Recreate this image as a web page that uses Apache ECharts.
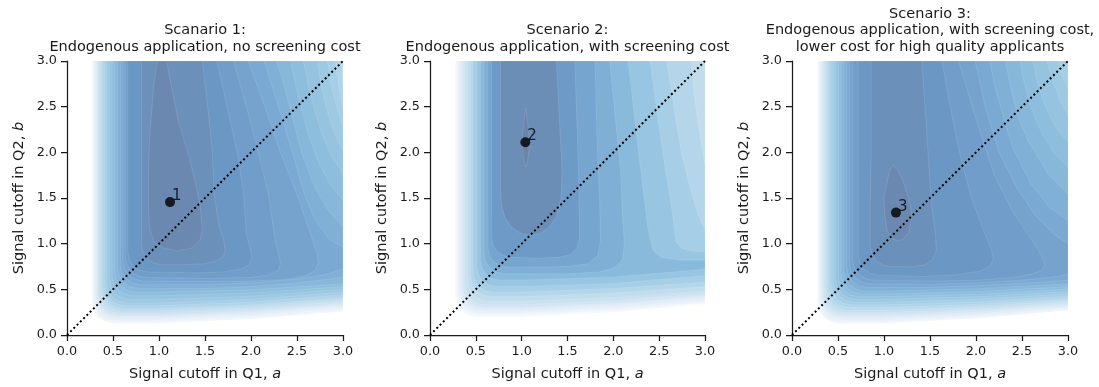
<!DOCTYPE html>
<html><head><meta charset="utf-8">
<script src="https://cdn.jsdelivr.net/npm/echarts@6/dist/echarts.min.js"></script>
<style>html,body{margin:0;padding:0;background:#fff}#c{width:1099px;height:387px}</style>
</head><body><div id="c"></div>
<script>
// ---------------- data ----------------
const panelTitles = [
  ["Scanario 1:", "Endogenous application, no screening cost"],
  ["Scenario 2:", "Endogenous application, with screening cost"],
  ["Scenario 3:", "Endogenous application, with screening cost,", "lower cost for high quality applicants"]
];
const xAxisName = "Signal cutoff in Q1, {i|a}";
const yAxisName = "Signal cutoff in Q2, {i|b}";
const axisMin = 0, axisMax = 3, axisStep = 0.5;
const diagonal = [[0, 0], [3, 3]];
const optima = [[1.12, 1.455], [1.04, 2.11], [1.13, 1.34]];
const optimaLabels = ["1", "2", "3"];

// filled contour levels (region >= level), colour position on the Blues scale
const s1Levels = [0.083,0.125,0.167,0.208,0.25,0.292,0.333,0.375,0.417,0.458,0.5,0.542,0.583,0.625,0.667,0.708,0.75,0.792,0.833,0.875,0.917,0.958];
const s1Contours = [
 [0.275,3, 0.275,0.35, 0.292,0.266, 0.339,0.194, 0.411,0.147, 0.495,0.13, 1.0,0.13, 2.0,0.175, 3,0.26, 3,3],
 [0.285,3, 0.285,0.365, 0.302,0.281, 0.349,0.209, 0.421,0.162, 0.505,0.145, 1.0,0.145, 2.0,0.19, 3,0.275, 3,3],
 [0.295,3, 0.295,0.38, 0.312,0.296, 0.359,0.224, 0.431,0.177, 0.515,0.16, 1.0,0.16, 2.0,0.205, 3,0.29, 3,3],
 [0.305,3, 0.305,0.395, 0.322,0.311, 0.369,0.239, 0.441,0.192, 0.525,0.175, 1.0,0.175, 2.0,0.22, 3,0.305, 3,3],
 [0.315,3, 0.315,0.41, 0.332,0.326, 0.379,0.254, 0.451,0.207, 0.535,0.19, 1.0,0.19, 2.0,0.235, 3,0.32, 3,3],
 [0.325,3, 0.325,0.425, 0.342,0.341, 0.389,0.269, 0.461,0.222, 0.545,0.205, 1.0,0.205, 2.0,0.25, 3,0.335, 3,3],
 [0.335,3, 0.335,0.44, 0.352,0.356, 0.399,0.284, 0.471,0.237, 0.555,0.22, 1.0,0.22, 2.0,0.265, 3,0.35, 3,3],
 [0.35,3, 0.35,0.46, 0.367,0.376, 0.414,0.304, 0.486,0.257, 0.57,0.24, 1.0,0.24, 2.0,0.285, 3,0.37, 3,3],
 [0.37,3, 0.37,0.485, 0.387,0.401, 0.434,0.329, 0.506,0.282, 0.59,0.265, 1.0,0.265, 2.0,0.31, 3,0.39, 3,3],
 [0.39,3, 0.39,0.51, 0.407,0.426, 0.454,0.354, 0.526,0.307, 0.61,0.29, 1.0,0.29, 2.0,0.33, 3,0.41, 3,2.70, 2.99,2.85, 2.98,3],
 [0.41,3, 0.41,0.54, 0.427,0.456, 0.474,0.384, 0.546,0.337, 0.63,0.32, 1.0,0.32, 2.0,0.36, 3,0.44, 3,2.48, 2.96,2.7, 2.93,2.88, 2.92,3],
 [0.43,3, 0.43,0.57, 0.447,0.486, 0.494,0.414, 0.566,0.367, 0.65,0.35, 1.0,0.35, 2.0,0.39, 3,0.47, 3,2.27, 2.93,2.5, 2.87,2.75, 2.83,3],
 [0.46,3, 0.46,0.61, 0.477,0.526, 0.524,0.454, 0.596,0.407, 0.68,0.39, 1.0,0.39, 2.0,0.425, 3,0.50, 3,2.01, 2.9,2.22, 2.82,2.48, 2.76,2.75, 2.72,3],
 [0.49,3, 0.49,0.65, 0.507,0.566, 0.554,0.494, 0.626,0.447, 0.71,0.43, 1.0,0.43, 2.0,0.46, 3,0.53, 3,1.76, 2.88,1.95, 2.77,2.2, 2.68,2.5, 2.62,2.75, 2.57,3],
 [0.52,3, 0.52,0.69, 0.537,0.606, 0.584,0.534, 0.656,0.487, 0.74,0.47, 1.0,0.47, 2.0,0.495, 3,0.56, 3,1.47, 2.86,1.65, 2.73,1.9, 2.62,2.2, 2.53,2.55, 2.47,2.8, 2.43,3],
 [0.55,3, 0.55,0.73, 0.567,0.646, 0.614,0.574, 0.686,0.527, 0.77,0.51, 1.5,0.51, 2.0,0.53, 2.5,0.57, 3,0.63, 3,1.18, 2.85,1.35, 2.7,1.6, 2.55,2.0, 2.42,2.5, 2.34,2.8, 2.28,3],
 [0.58,3, 0.58,0.77, 0.597,0.686, 0.644,0.614, 0.716,0.567, 0.8,0.55, 1.5,0.55, 2.0,0.57, 2.5,0.61, 2.8,0.66, 3,0.72, 3,0.96, 2.85,1.05, 2.7,1.25, 2.58,1.54, 2.45,2.0, 2.3,2.5, 2.14,3],
 [0.61,3, 0.61,0.81, 0.627,0.726, 0.674,0.654, 0.746,0.607, 0.83,0.59, 1.5,0.585, 2.0,0.59, 2.4,0.61, 2.6,0.65, 2.7,0.71, 2.73,0.78, 2.72,0.88, 2.65,1.1, 2.5,1.54, 2.32,2.0, 2.15,2.5, 1.97,3],
 [0.635,3, 0.635,0.85, 0.652,0.766, 0.699,0.694, 0.771,0.647, 0.855,0.63, 1.5,0.62, 2.0,0.63, 2.2,0.66, 2.3,0.71, 2.32,0.78, 2.3,0.88, 2.26,1.05, 2.19,1.54, 2.08,2.0, 1.95,2.5, 1.81,3],
 [0.66,3, 0.66,0.91, 0.677,0.826, 0.724,0.754, 0.796,0.707, 0.88,0.69, 1.4,0.68, 1.7,0.69, 1.88,0.72, 1.98,0.77, 2.01,0.85, 1.99,0.95, 1.95,1.1, 1.92,1.54, 1.85,2.0, 1.74,2.5, 1.63,3],
 [0.81,3, 0.81,0.99, 0.827,0.906, 0.874,0.834, 0.946,0.787, 1.03,0.77, 1.3,0.77, 1.5,0.78, 1.62,0.81, 1.7,0.86, 1.72,0.93, 1.7,1.05, 1.65,1.2, 1.6,1.54, 1.58,2.0, 1.53,2.5, 1.47,3],
 [0.98,3, 0.94,2.7, 0.9,2.2, 0.885,1.8, 0.885,1.4, 0.9,1.15, 0.95,1.02, 1.05,0.95, 1.2,0.92, 1.35,0.95, 1.45,1.05, 1.47,1.15, 1.45,1.4, 1.4,1.65, 1.32,1.98, 1.21,2.34, 1.14,2.7, 1.08,3]
];

const s2Levels = [0.05,0.10,0.15,0.20,0.25,0.30,0.35,0.39,0.44,0.50,0.57,0.65,0.72,0.78,0.85,0.93,0.99];
const s2Contours = [
 [0.275,3, 0.275,0.42, 0.292,0.336, 0.339,0.264, 0.411,0.217, 0.495,0.20, 1.0,0.20, 2.0,0.25, 3,0.34, 3,3],
 [0.29,3, 0.29,0.44, 0.307,0.356, 0.354,0.284, 0.426,0.237, 0.51,0.22, 1.0,0.22, 2.0,0.267, 3,0.355, 3,3],
 [0.305,3, 0.305,0.46, 0.322,0.376, 0.369,0.304, 0.441,0.257, 0.525,0.24, 1.0,0.24, 2.0,0.285, 3,0.37, 3,3],
 [0.32,3, 0.32,0.48, 0.337,0.396, 0.384,0.324, 0.456,0.277, 0.54,0.26, 1.0,0.26, 2.0,0.305, 3,0.39, 3,3],
 [0.34,3, 0.34,0.50, 0.357,0.416, 0.404,0.344, 0.476,0.297, 0.56,0.28, 1.0,0.28, 2.0,0.325, 3,0.41, 3,3],
 [0.36,3, 0.36,0.52, 0.377,0.436, 0.424,0.364, 0.496,0.317, 0.58,0.30, 1.0,0.30, 2.0,0.345, 3,0.43, 3,3],
 [0.38,3, 0.38,0.55, 0.397,0.466, 0.444,0.394, 0.516,0.347, 0.60,0.33, 1.0,0.33, 2.0,0.375, 3,0.455, 3,3],
 [0.41,3, 0.41,0.59, 0.427,0.506, 0.474,0.434, 0.546,0.387, 0.63,0.37, 1.0,0.37, 2.0,0.41, 3,0.48, 3,3],
 [0.44,3, 0.44,0.64, 0.457,0.556, 0.504,0.484, 0.576,0.437, 0.66,0.42, 1.0,0.42, 2.0,0.46, 3,0.53, 3,1.85, 2.96,2.1, 2.92,2.35, 2.88,2.65, 2.85,3],
 [0.47,3, 0.47,0.69, 0.487,0.606, 0.534,0.534, 0.606,0.487, 0.69,0.47, 1.0,0.47, 2.0,0.51, 3,0.58, 3,1.15, 2.93,1.3, 2.84,1.6, 2.74,2.0, 2.66,2.5, 2.58,3],
 [0.51,3, 0.51,0.75, 0.527,0.666, 0.574,0.594, 0.646,0.547, 0.73,0.53, 1.0,0.53, 2.0,0.565, 3,0.65, 3,0.91, 2.85,0.92, 2.74,0.95, 2.68,1.03, 2.65,1.3, 2.57,1.8, 2.48,2.4, 2.4,3],
 [0.55,3, 0.55,0.82, 0.567,0.736, 0.614,0.664, 0.686,0.617, 0.77,0.60, 1.0,0.60, 2.0,0.635, 3,0.72, 3,0.82, 2.7,0.825, 2.52,0.85, 2.43,0.93, 2.38,1.15, 2.3,1.8, 2.23,2.4, 2.16,3],
 [0.59,3, 0.59,0.89, 0.607,0.806, 0.654,0.734, 0.726,0.687, 0.81,0.67, 1.5,0.67, 1.85,0.69, 2.02,0.74, 2.1,0.83, 2.12,1.0, 2.1,1.3, 2.08,1.8, 2.02,2.4, 1.96,3],
 [0.63,3, 0.63,0.96, 0.647,0.876, 0.694,0.804, 0.766,0.757, 0.85,0.74, 1.5,0.75, 1.72,0.78, 1.83,0.87, 1.86,1.05, 1.85,1.5, 1.82,2.2, 1.8,3],
 [0.67,3, 0.67,1.07, 0.687,0.986, 0.734,0.914, 0.806,0.867, 0.89,0.85, 1.2,0.84, 1.4,0.85, 1.53,0.88, 1.6,0.95, 1.63,1.05, 1.63,1.3, 1.62,1.8, 1.6,2.4, 1.58,3],
 [0.77,3, 0.77,1.6, 0.78,1.42, 0.82,1.28, 0.9,1.17, 1.0,1.11, 1.1,1.09, 1.2,1.11, 1.3,1.18, 1.38,1.3, 1.43,1.5, 1.44,1.8, 1.42,2.2, 1.4,2.6, 1.38,3],
 [1.045,2.49, 1.06,2.35, 1.08,2.2, 1.085,2.1, 1.075,1.98, 1.055,1.87, 1.045,1.84, 1.035,1.87, 1.015,1.98, 1.005,2.1, 1.01,2.2, 1.03,2.35]
];

const s3Levels = [0.083,0.125,0.167,0.208,0.25,0.292,0.333,0.375,0.417,0.458,0.5,0.542,0.583,0.625,0.667,0.708,0.75,0.792,0.833,0.875,0.917,0.958];
const s3Contours = [
 [0.28,3, 0.28,0.35, 0.297,0.266, 0.344,0.194, 0.416,0.147, 0.5,0.13, 1.0,0.13, 2.0,0.18, 3,0.27, 3,3],
 [0.29,3, 0.29,0.365, 0.307,0.281, 0.354,0.209, 0.426,0.162, 0.51,0.145, 1.0,0.145, 2.0,0.192, 3,0.28, 3,3],
 [0.30,3, 0.30,0.38, 0.317,0.296, 0.364,0.224, 0.436,0.177, 0.52,0.16, 1.0,0.16, 2.0,0.205, 3,0.29, 3,3],
 [0.31,3, 0.31,0.395, 0.327,0.311, 0.374,0.239, 0.446,0.192, 0.53,0.175, 1.0,0.175, 2.0,0.218, 3,0.30, 3,3],
 [0.32,3, 0.32,0.41, 0.337,0.326, 0.384,0.254, 0.456,0.207, 0.54,0.19, 1.0,0.19, 2.0,0.233, 3,0.315, 3,3],
 [0.33,3, 0.33,0.425, 0.347,0.341, 0.394,0.269, 0.466,0.222, 0.55,0.205, 1.0,0.205, 2.0,0.248, 3,0.33, 3,3],
 [0.345,3, 0.345,0.445, 0.362,0.361, 0.409,0.289, 0.481,0.242, 0.565,0.225, 1.0,0.225, 2.0,0.267, 3,0.345, 3,3],
 [0.36,3, 0.36,0.465, 0.377,0.381, 0.424,0.309, 0.496,0.262, 0.58,0.245, 1.0,0.245, 2.0,0.285, 3,0.36, 3,3],
 [0.38,3, 0.38,0.49, 0.397,0.406, 0.444,0.334, 0.516,0.287, 0.6,0.27, 1.0,0.27, 2.0,0.308, 3,0.38, 3,3],
 [0.40,3, 0.40,0.52, 0.417,0.436, 0.464,0.364, 0.536,0.317, 0.62,0.30, 1.0,0.30, 2.0,0.335, 3,0.40, 3,3],
 [0.425,3, 0.425,0.55, 0.442,0.466, 0.489,0.394, 0.561,0.347, 0.645,0.33, 1.0,0.33, 2.0,0.362, 3,0.425, 3,2.95, 2.97,3],
 [0.45,3, 0.45,0.58, 0.467,0.496, 0.514,0.424, 0.586,0.377, 0.67,0.36, 1.0,0.36, 2.0,0.39, 3,0.45, 3,2.70, 2.94,2.83, 2.88,3],
 [0.475,3, 0.475,0.61, 0.492,0.526, 0.539,0.454, 0.611,0.407, 0.695,0.39, 1.0,0.39, 2.0,0.418, 3,0.475, 3,2.41, 2.92,2.55, 2.86,2.72, 2.81,2.88, 2.77,3],
 [0.505,3, 0.505,0.64, 0.522,0.556, 0.569,0.484, 0.641,0.437, 0.725,0.42, 1.0,0.42, 2.0,0.445, 3,0.50, 3,2.12, 2.92,2.2, 2.85,2.3, 2.78,2.45, 2.72,2.6, 2.66,2.8, 2.62,3],
 [0.535,3, 0.535,0.67, 0.552,0.586, 0.599,0.514, 0.671,0.467, 0.755,0.45, 1.0,0.45, 2.0,0.475, 3,0.53, 3,1.83, 2.86,1.98, 2.72,2.2, 2.63,2.4, 2.56,2.62, 2.51,2.82, 2.48,3],
 [0.565,3, 0.565,0.70, 0.582,0.616, 0.629,0.544, 0.701,0.497, 0.785,0.48, 1.0,0.48, 2.0,0.505, 3,0.56, 3,1.54, 2.78,1.77, 2.58,2.1, 2.47,2.35, 2.39,2.65, 2.32,3],
 [0.595,3, 0.595,0.74, 0.612,0.656, 0.659,0.584, 0.731,0.537, 0.815,0.52, 1.5,0.52, 2.0,0.54, 2.5,0.565, 3,0.60, 3,1.25, 2.8,1.4, 2.6,1.65, 2.4,2.05, 2.28,2.45, 2.2,2.75, 2.15,3],
 [0.625,3, 0.625,0.78, 0.642,0.696, 0.689,0.624, 0.761,0.577, 0.845,0.56, 1.5,0.555, 2.0,0.57, 2.5,0.60, 2.8,0.63, 3,0.66, 3,1.0, 2.85,1.1, 2.65,1.3, 2.45,1.6, 2.25,2.0, 2.1,2.5, 1.99,3],
 [0.66,3, 0.66,0.82, 0.677,0.736, 0.724,0.664, 0.796,0.617, 0.88,0.60, 1.5,0.59, 2.0,0.60, 2.4,0.63, 2.62,0.67, 2.72,0.71, 2.75,0.77, 2.72,0.86, 2.6,1.05, 2.4,1.35, 2.2,1.75, 2.02,2.3, 1.9,2.7, 1.81,3],
 [0.72,3, 0.72,0.875, 0.737,0.791, 0.784,0.719, 0.856,0.672, 0.94,0.655, 1.4,0.64, 1.8,0.66, 2.05,0.7, 2.16,0.76, 2.19,0.84, 2.16,0.95, 2.08,1.15, 1.95,1.5, 1.82,2.0, 1.72,2.5, 1.63,3],
 [0.86,3, 0.86,2.0, 0.85,1.4, 0.85,0.97, 0.867,0.886, 0.914,0.814, 0.986,0.767, 1.07,0.75, 1.3,0.745, 1.45,0.77, 1.53,0.83, 1.57,0.93, 1.56,1.1, 1.52,1.4, 1.49,1.8, 1.46,2.3, 1.41,3],
 [1.10,1.86, 1.15,1.8, 1.2,1.7, 1.25,1.56, 1.29,1.4, 1.3,1.27, 1.27,1.13, 1.21,1.05, 1.15,1.03, 1.08,1.06, 1.03,1.15, 1.01,1.3, 1.0,1.5, 1.03,1.66, 1.06,1.79]
];

// ---------------- styling ----------------
const FONT = "DejaVu Sans";
const INK = "#1a1a1a";
const bluesStops = [[247,251,255],[222,235,247],[198,219,239],[158,202,225],[107,174,214],[66,146,198],[33,113,181],[8,81,156],[8,48,107]];
const fillAlpha = 0.6;
function bluesAt(t) {
  t = Math.max(0, Math.min(1, t));
  const x = t * 8, i = Math.min(7, Math.floor(x)), f = x - i;
  const c = bluesStops[i].map((v, k) => v + (bluesStops[i + 1][k] - v) * f);
  return "rgb(" + c.map(v => Math.round(fillAlpha * v + (1 - fillAlpha) * 255)).join(",") + ")";
}

const grids = [
  { left: 67, top: 61, width: 276, height: 275 },
  { left: 430, top: 61, width: 275, height: 275 },
  { left: 792, top: 61, width: 276, height: 275 }
];
const allContours = [s1Contours, s2Contours, s3Contours];
const allLevels = [s1Levels, s2Levels, s3Levels];

function makeRender(contours, levels) {
  return function (params, api) {
    const arr = contours[params.dataIndex];
    const pts = [];
    for (let j = 0; j < arr.length; j += 2) pts.push(api.coord([arr[j], arr[j + 1]]));
    return {
      type: "polygon",
      shape: { points: pts },
      style: { fill: bluesAt(levels[params.dataIndex]), stroke: "rgba(255,255,255,0.22)", lineWidth: 0.5 }
    };
  };
}

const xAxes = [], yAxes = [], series = [], graphics = [];
grids.forEach((g, gi) => {
  const axisCommon = {
    gridIndex: gi, type: "value", min: axisMin, max: axisMax, interval: axisStep,
    axisLine: { show: true, onZero: false, lineStyle: { color: INK, width: 1.25 } },
    axisTick: { show: true, length: 6, lineStyle: { color: INK, width: 1.25 } },
    splitLine: { show: false },
    nameLocation: "middle",
    nameTextStyle: { fontFamily: FONT, fontSize: 14.5, color: INK, rich: { i: { fontFamily: FONT, fontSize: 14.5, color: INK, fontStyle: "italic" } } }
  };
  xAxes.push(Object.assign({}, axisCommon, {
    name: xAxisName, nameGap: 32,
    axisLabel: { formatter: v => v.toFixed(1), fontFamily: FONT, fontSize: 12.8, color: INK, margin: 10 }
  }));
  yAxes.push(Object.assign({}, axisCommon, {
    name: yAxisName, nameGap: 40,
    axisLabel: { formatter: v => v.toFixed(1), fontFamily: FONT, fontSize: 12.8, color: INK, margin: 10 }
  }));
  series.push({
    type: "custom", xAxisIndex: gi, yAxisIndex: gi, clip: true, silent: true, z: 1,
    renderItem: makeRender(allContours[gi], allLevels[gi]),
    data: allLevels[gi].map(t => [t, t])
  });
  series.push({
    type: "line", xAxisIndex: gi, yAxisIndex: gi, data: diagonal, symbol: "none", z: 5, silent: true,
    lineStyle: { color: "#000", width: 2, type: [2, 2.6] }
  });
  series.push({
    type: "scatter", xAxisIndex: gi, yAxisIndex: gi, z: 6, silent: true,
    data: [optima[gi]], symbolSize: 10, itemStyle: { color: "#000" },
    label: { show: true, formatter: () => optimaLabels[gi], position: "right", distance: 5, offset: [-8, -6],
      fontFamily: FONT, fontSize: 15, color: "#000" }
  });
  // titles
  const cx = g.left + g.width / 2;
  const lines = panelTitles[gi];
  const ys = lines.length === 3 ? [13.8, 30.3, 46.8] : [30.5, 46.8];
  lines.forEach((txt, li) => {
    graphics.push({
      type: "text", x: cx, y: ys[li], silent: true,
      style: { text: txt, fontFamily: FONT, fontSize: 14.5, fill: INK,
        align: "center", verticalAlign: "middle", textAlign: "center", textVerticalAlign: "middle" }
    });
  });
});

const chart = echarts.init(document.getElementById("c"), null, { renderer: "canvas" });
chart.setOption({
  animation: false,
  backgroundColor: "#fff",
  grid: grids,
  xAxis: xAxes,
  yAxis: yAxes,
  series: series,
  graphic: graphics
});
</script>
</body></html>
